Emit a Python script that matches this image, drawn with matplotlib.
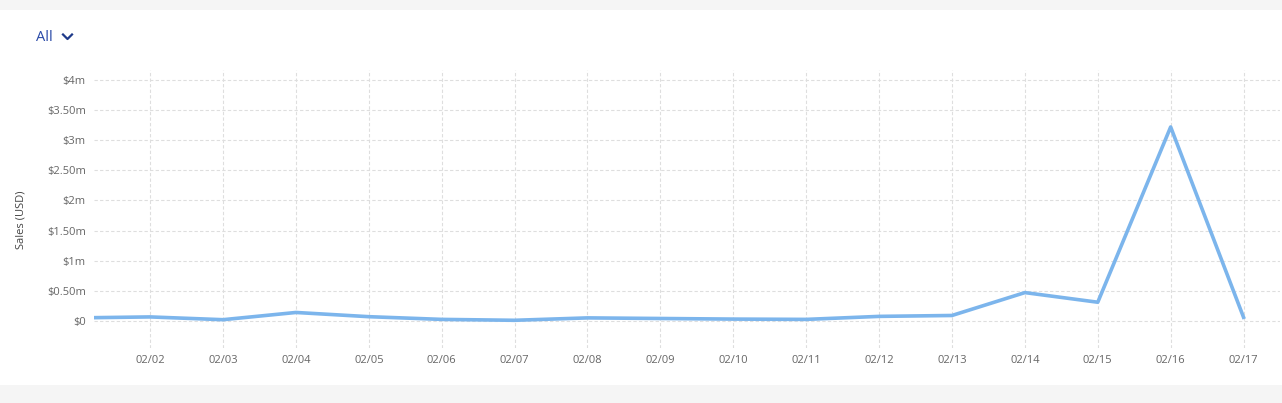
import matplotlib
matplotlib.use("Agg")
import matplotlib.pyplot as plt
from matplotlib.patches import Rectangle

dates = ["02/01", "02/02", "02/03", "02/04", "02/05", "02/06", "02/07", "02/08",
         "02/09", "02/10", "02/11", "02/12", "02/13", "02/14", "02/15", "02/16", "02/17"]
sales_m = [0.05, 0.066, 0.02, 0.14, 0.07, 0.025, 0.01, 0.05,
           0.04, 0.03, 0.025, 0.075, 0.09, 0.47, 0.31, 3.22, 0.06]
y_ticks = [0, 0.5, 1, 1.5, 2, 2.5, 3, 3.5, 4]
y_labels = ["$0", "$0.50m", "$1m", "$1.50m", "$2m", "$2.50m", "$3m", "$3.50m", "$4m"]

plt.rcParams['font.family'] = ['Open Sans', 'DejaVu Sans']

W, H = 1282, 403
fig = plt.figure(figsize=(W / 100, H / 100), dpi=100)
fig.patch.set_facecolor("#f5f5f5")

# card
card = Rectangle((0, 18 / H), 1, (385 - 10) / H, transform=fig.transFigure,
                 facecolor="white", edgecolor="none", zorder=-5)
fig.patches.append(card)

ax = fig.add_axes([94 / W, (H - 348) / H, (1280 - 94) / W, (348 - 70) / H])
ax.set_facecolor("white")
xs = list(range(1, len(dates) + 1))
ax.plot(xs, sales_m, color="#7cb5ec", lw=2.6, solid_joinstyle="round", zorder=3)

ax.set_xlim(1.23, 17.5)
ax.set_ylim(-0.45, 4.166)
ax.set_xticks(xs[1:])
ax.set_xticklabels(dates[1:])
ax.set_yticks(y_ticks)
ax.set_yticklabels(y_labels)
ax.grid(True, color="#dedede", linestyle=(0, (3, 2)), lw=0.8)
ax.set_axisbelow(True)
for s in ax.spines.values():
    s.set_visible(False)
ax.tick_params(axis="both", length=0, labelsize=8, colors="#666666")
ax.tick_params(axis="x", pad=5)
ax.tick_params(axis="y", pad=6)

fig.text(21 / W, 1 - 220 / H, "Sales (USD)", rotation=90, ha="center", va="center",
         fontsize=8, color="#444444")
fig.text(36 / W, 1 - 37.5 / H, "All", ha="left", va="center", fontsize=10.5,
         color="#2a4aa8")
# chevron
fig.lines.append(plt.Line2D([63 / W, 67.5 / W, 72 / W], [1 - 34.5 / H, 1 - 39 / H, 1 - 34.5 / H],
                            transform=fig.transFigure, color="#1e3a8a", lw=1.6))

fig.savefig("out.png", dpi=100, facecolor=fig.get_facecolor())
